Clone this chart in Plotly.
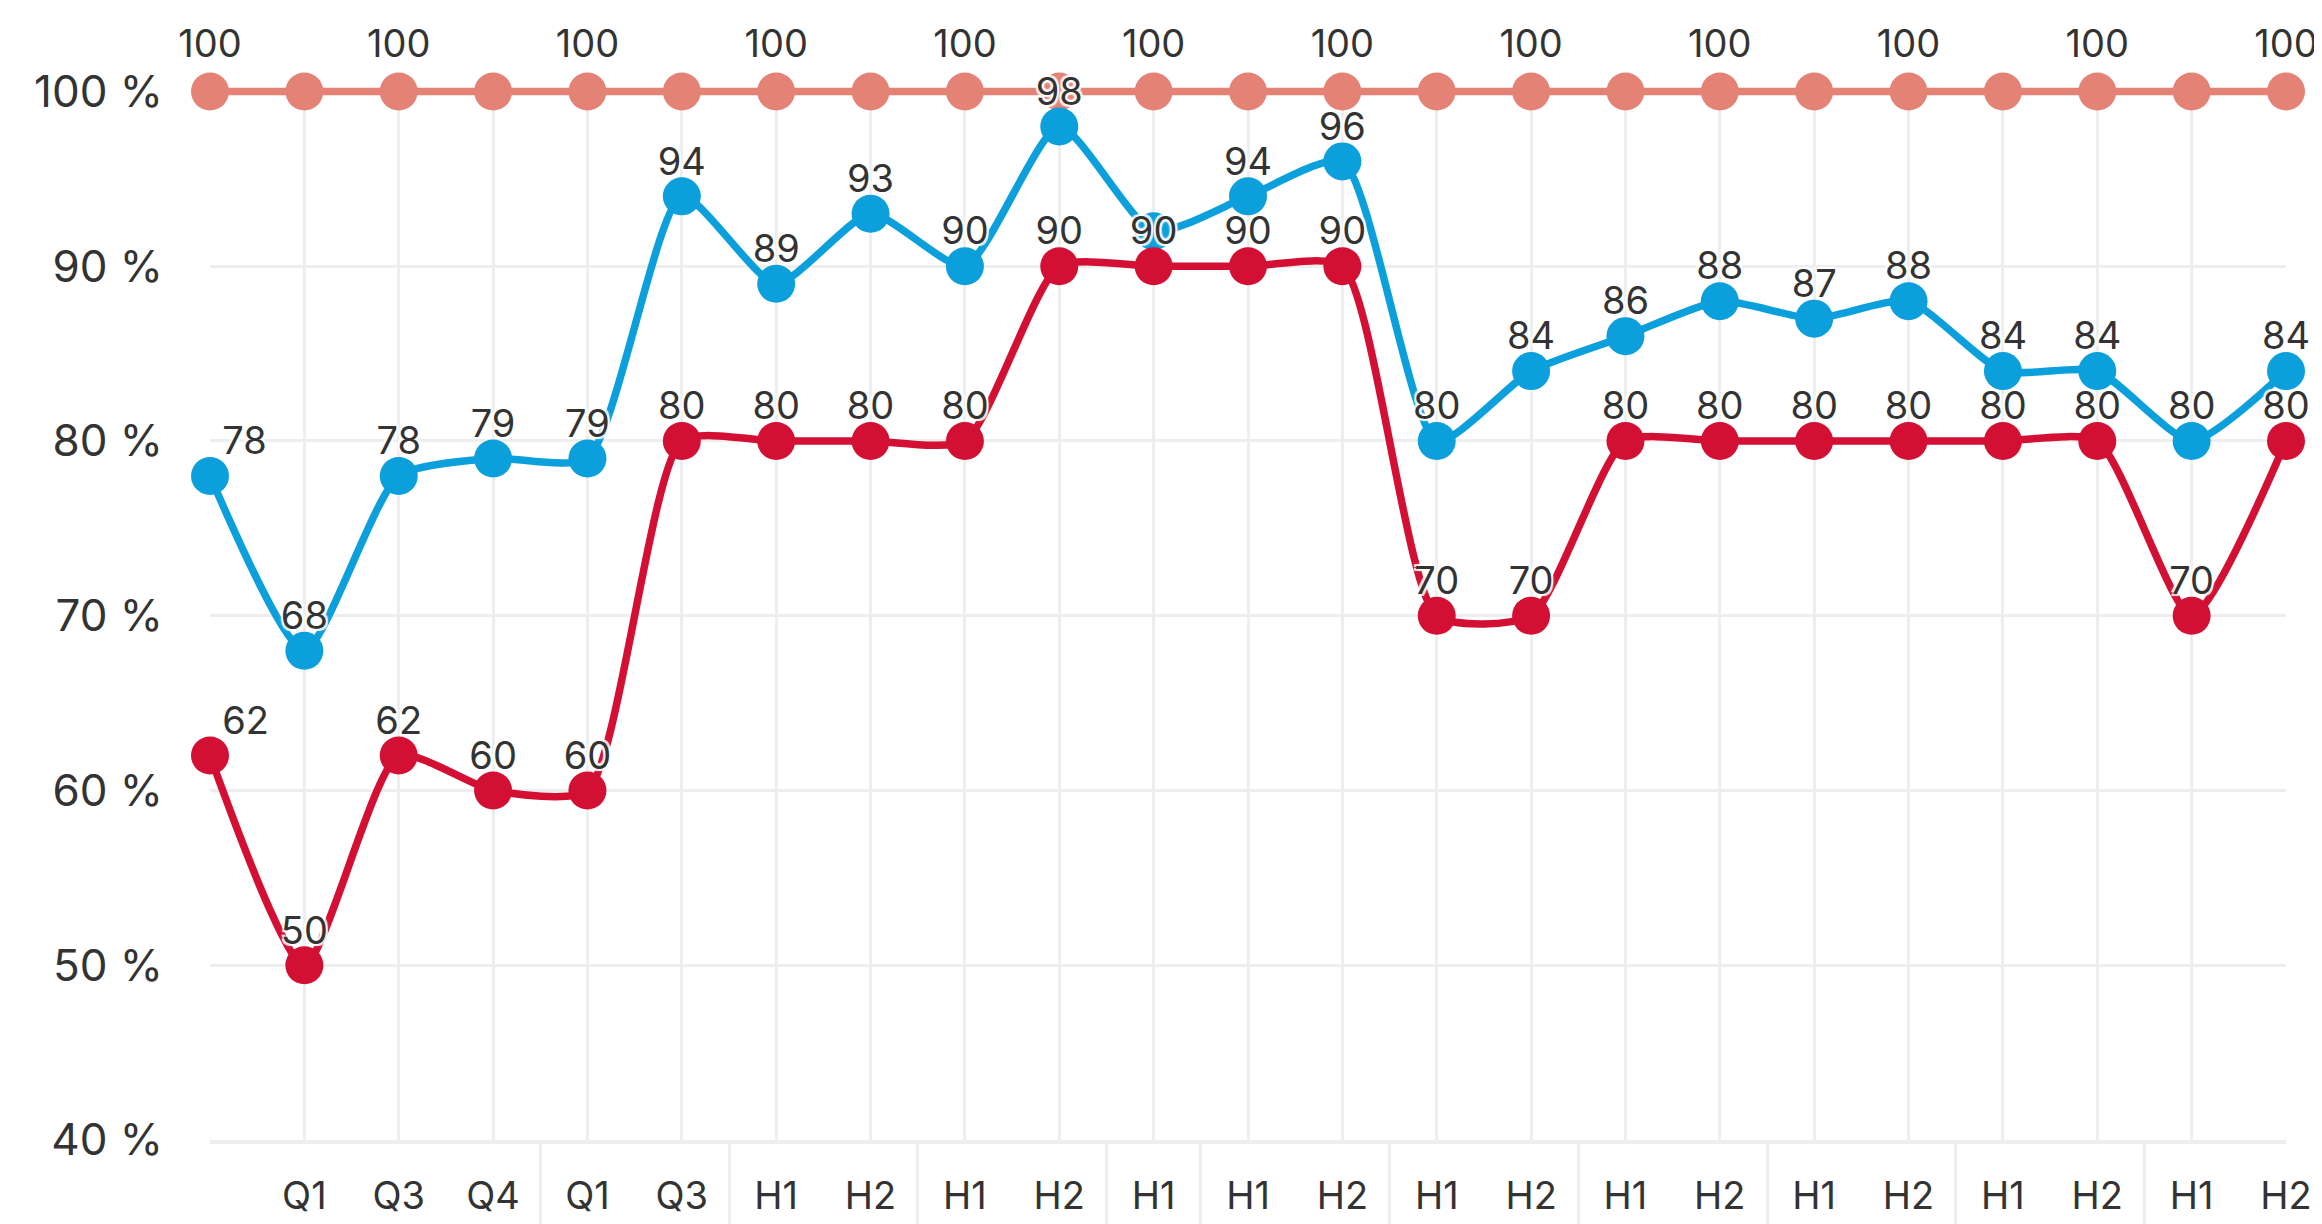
import plotly.graph_objects as go

# ---------------- data ----------------
# outer grouping of the multicategory axis (group names are not visible in the chart)
group_ids = [1, 1, 1, 1,
             2, 2,
             3, 3,
             4, 4,
             5,
             6, 6,
             7, 7,
             8, 8,
             9, 9,
             10, 10,
             11, 11]
periods = [" ", "Q1", "Q3", "Q4",
           "Q1", "Q3",
           "H1", "H2",
           "H1", "H2",
           "H1",
           "H1", "H2",
           "H1", "H2",
           "H1", "H2",
           "H1", "H2",
           "H1", "H2",
           "H1", "H2"]
target = [100] * 23
blue_vals = [78, 68, 78, 79, 79, 94, 89, 93, 90, 98, 92, 94, 96, 80, 84, 86, 88, 87, 88, 84, 84, 80, 84]
red_vals = [62, 50, 62, 60, 60, 80, 80, 80, 80, 90, 90, 90, 90, 70, 70, 80, 80, 80, 80, 80, 80, 70, 80]
y_ticks = [40, 50, 60, 70, 80, 90, 100]
y_ticktext = [f"{v} %" for v in y_ticks]

# labels hidden in the original (overlap hiding)
pink_text = [str(v) if i % 2 == 0 else "" for i, v in enumerate(target)]
blue_text = [str(v) if i != 10 else "" for i, v in enumerate(blue_vals)]
red_text = [str(v) for v in red_vals]

# ---------------- style ----------------
PINK = "#E58276"
BLUE = "#0BA0DC"
RED = "#D31034"
GRID = "#EEEEEE"
TXT = "#333333"
FONT = "Inter, Roboto, sans-serif"
HALO = ("2px 2px 0 rgba(255,255,255,0.8), -2px -2px 0 rgba(255,255,255,0.8), "
        "2px -2px 0 rgba(255,255,255,0.8), -2px 2px 0 rgba(255,255,255,0.8), "
        "0 0 4px rgba(255,255,255,0.9)")

groups = [" " * g for g in group_ids]
x = [groups, periods]
n = len(periods)
pos_first = ["top right"] + ["top center"] * (n - 1)

fig = go.Figure()

for vals, col in [(target, PINK), (blue_vals, BLUE), (red_vals, RED)]:
    fig.add_trace(go.Scatter(
        x=x, y=vals, mode="lines+markers",
        line=dict(color=col, width=7.5, shape="spline", smoothing=0.6),
        marker=dict(color=col, size=38),
        cliponaxis=False, showlegend=False, hoverinfo="y"))

for vals, txt, msize, tpos in [(target, pink_text, 39, ["top center"] * n),
                               (blue_vals, blue_text, 18, pos_first),
                               (red_vals, red_text, 18, pos_first)]:
    fig.add_trace(go.Scatter(
        x=x, y=vals, mode="markers+text", text=txt, textposition=tpos,
        marker=dict(color="rgba(0,0,0,0)", size=msize),
        textfont=dict(family=FONT, size=38, color=TXT, shadow=HALO),
        cliponaxis=False, showlegend=False, hoverinfo="skip"))

# page body has an 8px margin: figure is sized to fill the rest of the window
fig.update_layout(
    width=2314, height=1216,
    margin=dict(l=202, r=36, t=66, b=84),
    paper_bgcolor="white", plot_bgcolor="white",
    font=dict(family=FONT, color=TXT),
)
fig.update_xaxes(
    type="multicategory", range=[0, n - 1], tickson="labels",
    showgrid=True, gridcolor=GRID, gridwidth=3,
    showline=True, linecolor=GRID, linewidth=4,
    showdividers=True, dividercolor=GRID, dividerwidth=3,
    ticks="", ticklabelstandoff=19,
    tickfont=dict(family=FONT, size=38, color=TXT),
    automargin=False, zeroline=False,
)
fig.update_yaxes(
    range=[40, 101], tickvals=y_ticks, ticktext=y_ticktext,
    showgrid=True, gridcolor=GRID, gridwidth=3,
    zeroline=False, showline=False, ticks="",
    ticklabelstandoff=46,
    tickfont=dict(family=FONT, size=44, color=TXT),
    automargin=False,
)

fig.write_html("out.html")
